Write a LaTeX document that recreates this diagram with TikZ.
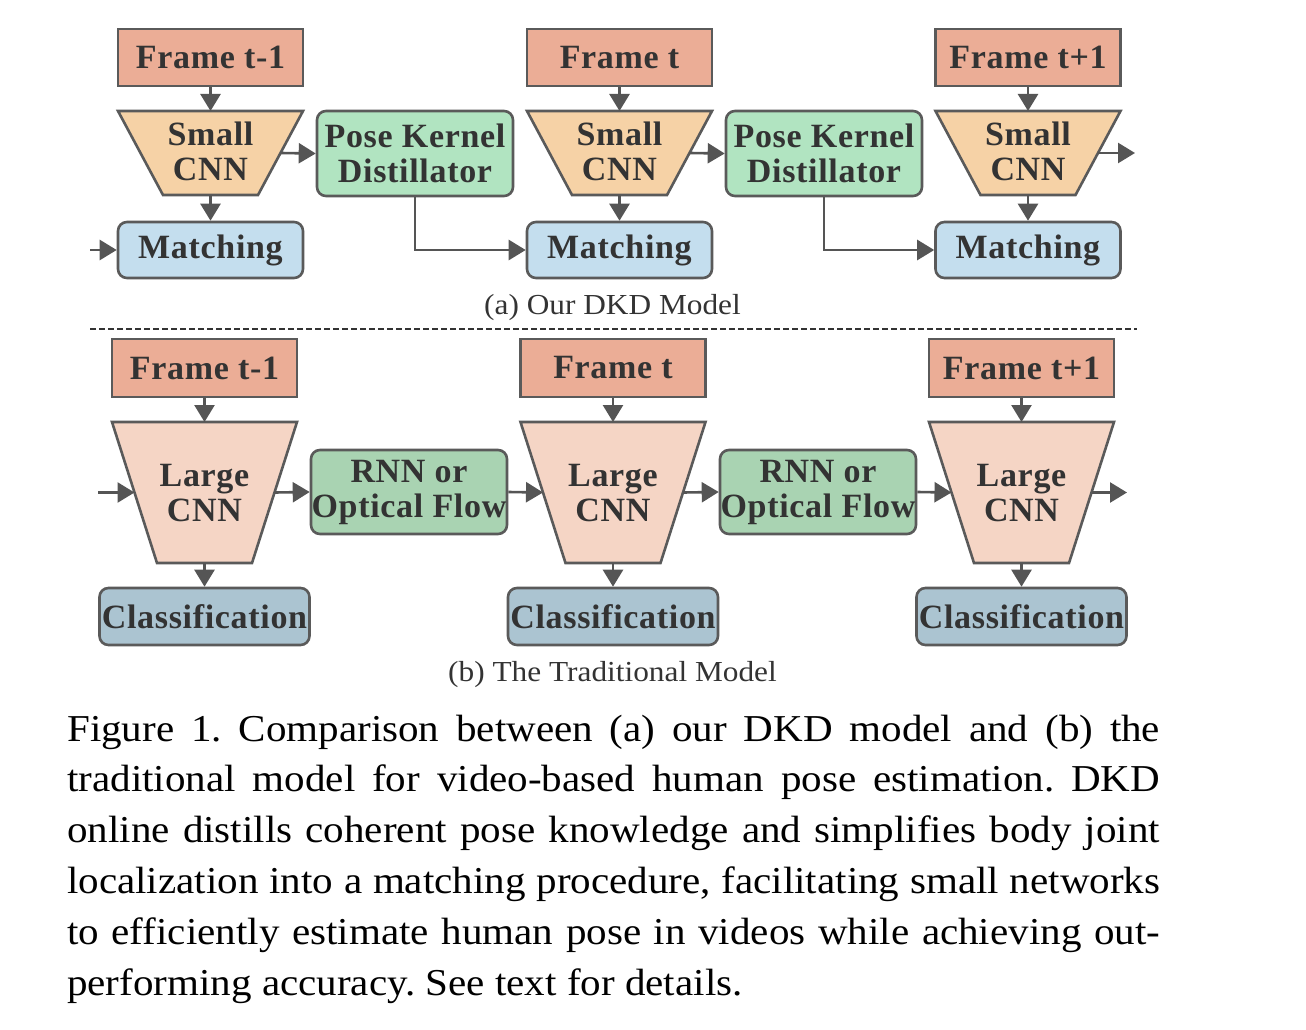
\documentclass[tikz,border=0pt]{standalone}
\usepackage{fontspec}
\setmainfont{Liberation Serif}
\usetikzlibrary{arrows.meta,calc}
\definecolor{framec}{HTML}{EBAD96}
\definecolor{smallc}{HTML}{F6D2A6}
\definecolor{pkdc}{HTML}{B1E4C1}
\definecolor{matchc}{HTML}{C4DEEE}
\definecolor{largec}{HTML}{F5D5C5}
\definecolor{rnnc}{HTML}{A9D3B2}
\definecolor{classc}{HTML}{ABC4D1}
\definecolor{bordc}{HTML}{5A5A5A}
\definecolor{txtc}{HTML}{333333}
\definecolor{arrc}{HTML}{555555}
\newcommand\boxfont{\bfseries\fontsize{34}{35}\selectfont\addfontfeature{LetterSpace=2}}
\newcommand\mytrap[5]{%
  \coordinate (#1-tl) at (#2-92.5,#3);
  \coordinate (#1-tr) at (#2+92.5,#3);
  \coordinate (#1-br) at (#2+47.5,#4);
  \coordinate (#1-bl) at (#2-47.5,#4);
  \coordinate (#1-t) at (#2,#3);
  \coordinate (#1-b) at (#2,#4);
  \coordinate (#1-l) at ($(#1-tl)!0.5!(#1-bl)$);
  \coordinate (#1-r) at ($(#1-tr)!0.5!(#1-br)$);
  \draw[trap, fill=#5] (#1-tl) -- (#1-tr) -- (#1-br) -- (#1-bl) -- cycle;}
\tikzset{
  base/.style={draw=bordc, line width=2.6pt, inner sep=0pt, font=\boxfont, text=txtc, align=center},
  frame/.style={base, fill=framec, minimum width=185pt, minimum height=57pt},
  pkd/.style={base, fill=pkdc, rounded corners=9pt, minimum width=196pt, minimum height=85pt},
  matchbox/.style={base, fill=matchc, rounded corners=9pt, minimum width=185pt, minimum height=56pt},
  rnn/.style={base, fill=rnnc, rounded corners=9pt, minimum width=196pt, minimum height=84pt},
  classbox/.style={base, fill=classc, rounded corners=9pt, minimum width=210pt, minimum height=57pt},
  trap/.style={draw=bordc, line width=2.6pt, line join=miter},
  tlabel/.style={inner sep=0pt, font=\boxfont, text=txtc, align=center},
  arr/.style={draw=arrc, line width=2.6pt, -{Triangle[length=17pt,width=20pt]}},
  dashline/.style={draw=txtc, line width=2.2pt, dash pattern=on 6pt off 3pt},
  lbl/.style={inner sep=0pt, text=txtc, font=\fontsize{29}{34}\selectfont}
}
\begin{document}
\begin{tikzpicture}[x=1pt,y=-1pt]
\useasboundingbox[fill=white] (0,0) rectangle (1306,1030);
% ---------- (a) DKD model ----------
\node[frame] (fA1) at (210.5,57.5) {Frame t-1};
\node[frame] (fA2) at (619.5,57.5) {Frame t};
\node[frame] (fA3) at (1028,57.5) {Frame t+1};
\mytrap{sA1}{210.5}{111}{195}{smallc}
\mytrap{sA2}{619.5}{111}{195}{smallc}
\mytrap{sA3}{1028}{111}{195}{smallc}
\node[tlabel] (cA1) at (210.5,151) {Small\\CNN};
\node[tlabel] (cA2) at (619.5,151) {Small\\CNN};
\node[tlabel] (cA3) at (1028,151) {Small\\CNN};
\node[pkd] (pA1) at (415,153.5) {Pose Kernel\\Distillator};
\node[pkd] (pA2) at (824,153.5) {Pose Kernel\\Distillator};
\node[matchbox] (mA1) at (210.5,250) {Matching};
\node[matchbox] (mA2) at (619.5,250) {Matching};
\node[matchbox] (mA3) at (1028,250) {Matching};
\coordinate (inA) at (90,250);
\coordinate (outA) at (1135,153);
\foreach \i in {1,2,3} {
  \draw[arr] (fA\i.south) -- (sA\i-t);
  \draw[arr] (sA\i-b) -- (mA\i.north);
}
\draw[arr] (sA1-r) -- (pA1.west);
\draw[arr] (sA2-r) -- (pA2.west);
\draw[arr] (sA3-r) -- (outA);
\draw[arr] (inA) -- (mA1.west);
\draw[arr] (pA1.south) |- (mA2.west);
\draw[arr] (pA2.south) |- (mA3.west);
\node[lbl, anchor=base] (capA) at (612.5,314) {\scalebox{1.08}[1]{(a) Our DKD Model}};
% ---------- separator ----------
\coordinate (dl) at (90,329);
\coordinate (dr) at (1137,329);
\draw[dashline] (dl) -- (dr);
% ---------- (b) traditional model ----------
\node[frame, minimum height=58pt] (fB1) at (204.5,368) {Frame t-1};
\node[frame, minimum height=58pt] (fB2) at (613,368) {Frame t};
\node[frame, minimum height=58pt] (fB3) at (1021.5,368) {Frame t+1};
\mytrap{lB1}{204.5}{422}{563}{largec}
\mytrap{lB2}{613}{422}{563}{largec}
\mytrap{lB3}{1021.5}{422}{563}{largec}
\node[tlabel] (cB1) at (204.5,493) {Large\\CNN};
\node[tlabel] (cB2) at (613,493) {Large\\CNN};
\node[tlabel] (cB3) at (1021.5,493) {Large\\CNN};
\node[rnn] (rB1) at (409,492) {RNN or\\Optical Flow};
\node[rnn] (rB2) at (818,492) {RNN or\\Optical Flow};
\node[classbox] (kB1) at (204.5,616.5) {Classification};
\node[classbox] (kB2) at (613,616.5) {Classification};
\node[classbox] (kB3) at (1021.5,616.5) {Classification};
\coordinate (inB) at (98,492.5);
\coordinate (outB) at (1127,492.5);
\foreach \i in {1,2,3} {
  \draw[arr] (fB\i.south) -- (lB\i-t);
  \draw[arr] (lB\i-b) -- (kB\i.north);
}
\draw[arr] (inB) -- (lB1-l);
\draw[arr] (lB1-r) -- (rB1.west);
\draw[arr] (rB1.east) -- (lB2-l);
\draw[arr] (lB2-r) -- (rB2.west);
\draw[arr] (rB2.east) -- (lB3-l);
\draw[arr] (lB3-r) -- (outB);
\node[lbl, anchor=base] (capB) at (612.5,681) {\scalebox{1.08}[1]{(b) The Traditional Model}};
% ---------- figure caption ----------
\node[anchor=base west, inner sep=0pt, text=black] (figcap) at (67,741) {\scalebox{1.08}[1]{\parbox[t]{1012pt}{\fontsize{38}{50.8}\selectfont\frenchspacing\tolerance=10000\hyphenpenalty=10000\parindent=0pt
Figure 1. Comparison between (a) our DKD model and (b) the\linebreak
traditional model for video-based human pose estimation. DKD\linebreak
online distills coherent pose knowledge and simplifies body joint\linebreak
localization into a matching procedure, facilitating small networks\linebreak
to efficiently estimate human pose in videos while achieving out-\linebreak
performing accuracy. See text for details.}}};
\end{tikzpicture}
\end{document}
